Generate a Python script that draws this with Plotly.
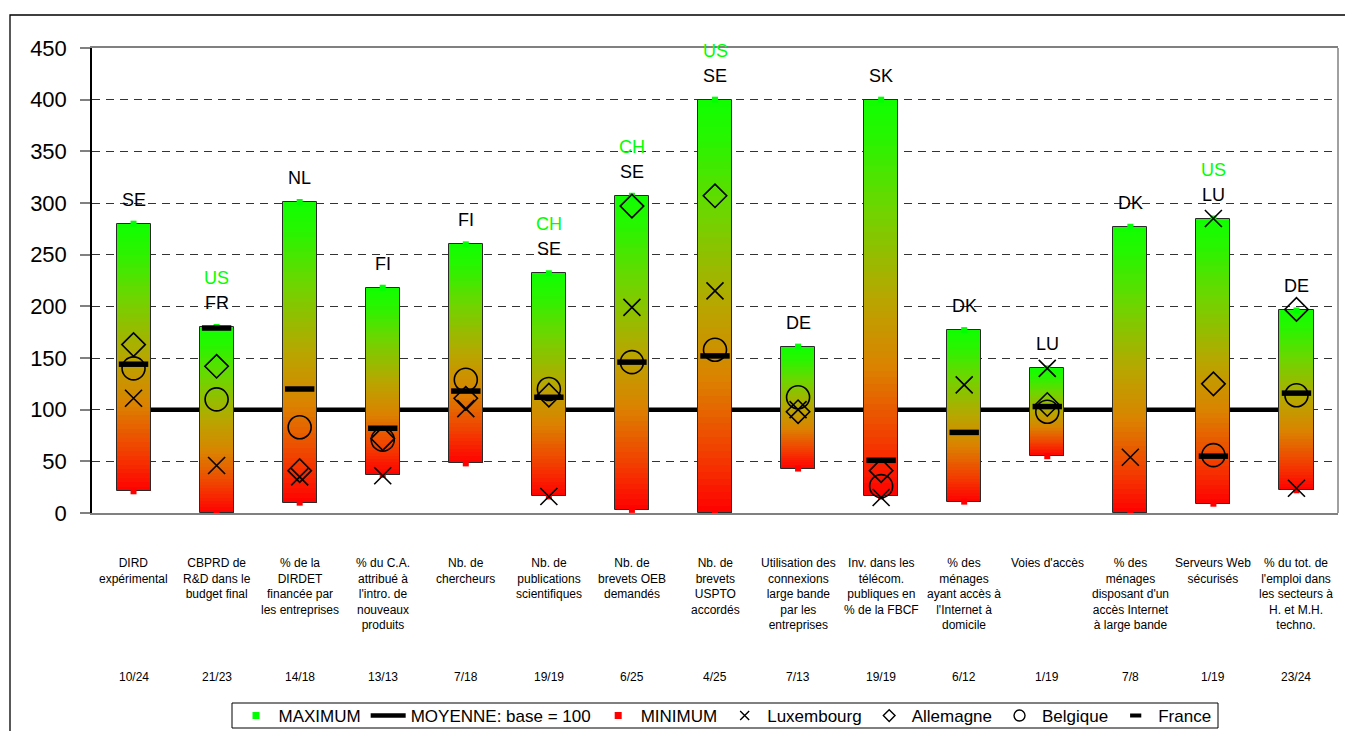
import plotly.graph_objects as go

# ---------------- data ----------------
categories = [
    "DIRD<br>expérimental",
    "CBPRD de<br>R&D dans le<br>budget final",
    "% de la<br>DIRDET<br>financée par<br>les entreprises",
    "% du C.A.<br>attribué à<br>l'intro. de<br>nouveaux<br>produits",
    "Nb. de<br>chercheurs",
    "Nb. de<br>publications<br>scientifiques",
    "Nb. de<br>brevets OEB<br>demandés",
    "Nb. de<br>brevets<br>USPTO<br>accordés",
    "Utilisation des<br>connexions<br>large bande<br>par les<br>entreprises",
    "Inv. dans les<br>télécom.<br>publiques en<br>% de la FBCF",
    "% des<br>ménages<br>ayant accès à<br>l'Internet à<br>domicile",
    "Voies d'accès",
    "% des<br>ménages<br>disposant d'un<br>accès Internet<br>à large bande",
    "Serveurs Web<br>sécurisés",
    "% du tot. de<br>l'emploi dans<br>les secteurs à<br>H. et M.H.<br>techno.",
]
ranks = ["10/24", "21/23", "14/18", "13/13", "7/18", "19/19", "6/25", "4/25",
         "7/13", "19/19", "6/12", "1/19", "7/8", "1/19", "23/24"]

max_vals = [280, 180, 301, 218, 260, 232, 307, 400, 161, 400, 177, 140, 277, 285, 196]
min_vals = [21, 0, 10, 37, 48, 16, 3, 0, 43, 16, 11, 55, 0, 9, 22]
mean_vals = [100, 100, 100, 100, 100, 100, 100, 100, 100, 100, 100, 100, 100, 100, 100]
lux_vals = [111, 46, 35, 36, 101, 16, 199, 215, 100, 15, 124, 140, 54, 285, 24]
de_vals = [163, 142, 41, 72, 111, 114, 297, 307, 98, 41, None, 105, None, 125, 197]
be_vals = [140, 110, 83, 71, 129, 120, 146, 158, 112, 26, None, 98, None, 56, 114]
fr_vals = [144, 179, 120, 82, 118, 112, 146, 152, None, 51, 78, 103, None, 55, 116]

max_labels = ["SE", "FR", "NL", "FI", "FI", "SE", "SE", "SE", "DE", "SK", "DK", "LU", "DK", "LU", "DE"]
extra_labels = ["", "US", "", "", "", "CH", "CH", "US", "", "", "", "", "", "US", ""]

# ---------------- style ----------------
FONT = "Arial, Liberation Sans, sans-serif"
GREEN = "#00ff00"
RED = "#ff0000"
stops = [(0.0, (255, 0, 0)), (0.15, (242, 64, 0)), (0.33, (218, 132, 0)),
         (0.5, (184, 166, 0)), (0.72, (112, 212, 0)), (0.9, (40, 245, 0)),
         (1.0, (16, 255, 0))]


def color_at(f):
    for (f0, c0), (f1, c1) in zip(stops[:-1], stops[1:]):
        if f <= f1:
            t = (f - f0) / (f1 - f0)
            c = [round(a + (b - a) * t) for a, b in zip(c0, c1)]
            return "rgb(%d,%d,%d)" % tuple(c)
    return "rgb(%d,%d,%d)" % stops[-1][1]


# page geometry (the page body adds an 8px offset to the figure)
OFF = 8
L, R, T, B = 92, 1338, 48, 513          # plot area in page pixels
W, H = R - L, B - T
FIG_W, FIG_H = 1353 - OFF, 731 - OFF


def px_x(p):
    return (p - L) / W


def px_y(p):
    return (B - p) / H


BAR_W = 0.41
N = 60
spans = [mx - mn for mx, mn in zip(max_vals, min_vals)]

fig = go.Figure()

# gradient bars (layered from bottom so no seams)
for k in range(N):
    f = k / N
    fig.add_trace(go.Bar(
        x=categories,
        base=[mn + s * f for mn, s in zip(min_vals, spans)],
        y=[s * (1 - f) for s in spans],
        width=BAR_W,
        marker=dict(color=color_at(f + 0.5 / N), line=dict(width=0)),
        showlegend=False, hoverinfo="skip",
    ))

# bar outline
fig.add_trace(go.Bar(
    x=categories, base=min_vals, y=spans, width=BAR_W,
    marker=dict(color="rgba(0,0,0,0)", line=dict(color="#2a2a2a", width=1)),
    showlegend=False, hoverinfo="skip",
))

series = [
    ("MAXIMUM", max_vals, dict(symbol="square", size=6, color=GREEN, line=dict(width=0)),
     dict(symbol="square", size=7, color=GREEN, line=dict(width=0))),
    ("MINIMUM", min_vals, dict(symbol="square", size=6, color=RED, line=dict(width=0)),
     dict(symbol="square", size=7, color=RED, line=dict(width=0))),
    ("Luxembourg", lux_vals,
     dict(symbol="x-thin-open", size=17, color="black", line=dict(width=1.6, color="black")),
     dict(symbol="x-thin-open", size=9, color="black", line=dict(width=1.4, color="black"))),
    ("Allemagne", de_vals,
     dict(symbol="diamond-open", size=18, color="black", line=dict(width=1.6, color="black")),
     dict(symbol="diamond-open", size=9, color="black", line=dict(width=1.4, color="black"))),
    ("Belgique", be_vals,
     dict(symbol="circle-open", size=23, color="black", line=dict(width=1.6, color="black")),
     dict(symbol="circle-open", size=11, color="black", line=dict(width=1.4, color="black"))),
    ("France", fr_vals,
     dict(symbol="line-ew-open", size=21, color="black", line=dict(width=5.5, color="black")),
     dict(symbol="line-ew-open", size=8, color="black", line=dict(width=4, color="black"))),
]
ranks_leg = {"MAXIMUM": 1, "MINIMUM": 3, "Luxembourg": 4, "Allemagne": 5, "Belgique": 6, "France": 7}

for name, vals, mk, _ in series:
    fig.add_trace(go.Scatter(x=categories, y=vals, mode="markers", name=name,
                             marker=mk, showlegend=False, hoverinfo="skip"))

# legend-only entries with small symbols
for name, _, _, lmk in series:
    fig.add_trace(go.Scatter(x=[None], y=[None], mode="markers", name=name,
                             marker=lmk, showlegend=True, legendrank=ranks_leg[name]))
fig.add_trace(go.Scatter(x=[None], y=[None], mode="lines", name="MOYENNE: base = 100",
                         line=dict(color="black", width=4.5), showlegend=True, legendrank=2))

shapes = [
    # mean line (between grid and traces)
    dict(type="line", xref="x", yref="y", x0=categories[0], x1=categories[-1],
         y0=mean_vals[0], y1=mean_vals[-1], line=dict(color="black", width=4.5),
         layer="between"),
    # right plot border
    dict(type="line", xref="paper", yref="paper", x0=1, x1=1, y0=0, y1=1,
         line=dict(color="#808080", width=1.5)),
    # outer frame
    dict(type="rect", xref="paper", yref="paper",
         x0=px_x(10), x1=px_x(1400), y0=px_y(780), y1=px_y(15),
         line=dict(color="black", width=1.3), fillcolor="rgba(0,0,0,0)"),
    # legend box
    dict(type="rect", xref="paper", yref="paper",
         x0=px_x(232), x1=px_x(1218), y0=px_y(728), y1=px_y(703),
         line=dict(color="black", width=1), fillcolor="white", layer="below"),
]

annotations = []
for cat, lab, ext, mx, rk in zip(categories, max_labels, extra_labels, max_vals, ranks):
    annotations.append(dict(x=cat, y=mx, xref="x", yref="y", text=lab, showarrow=False,
                            yanchor="middle", yshift=24, font=dict(size=18, color="black", family=FONT)))
    if ext:
        annotations.append(dict(x=cat, y=mx, xref="x", yref="y", text=ext, showarrow=False,
                                yanchor="middle", yshift=49, font=dict(size=18, color=GREEN, family=FONT)))
    annotations.append(dict(x=cat, y=0, xref="x", yref="paper", text=cat, showarrow=False,
                            yanchor="top", yshift=-41, align="center",
                            font=dict(size=12, color="black", family=FONT)))
    annotations.append(dict(x=cat, y=0, xref="x", yref="paper", text=rk, showarrow=False,
                            yanchor="middle", yshift=-164,
                            font=dict(size=12, color="black", family=FONT)))

fig.update_layout(
    width=FIG_W, height=FIG_H,
    margin=dict(l=L - OFF, r=FIG_W - (R - OFF), t=T - OFF, b=FIG_H - (B - OFF), autoexpand=False),
    paper_bgcolor="white", plot_bgcolor="white",
    barmode="overlay", bargap=0,
    font=dict(family=FONT, color="black"),
    shapes=shapes, annotations=annotations,
    showlegend=True,
    legend=dict(orientation="h", x=px_x(725), xanchor="center", y=px_y(716), yanchor="middle",
                borderwidth=0, bgcolor="rgba(0,0,0,0)", itemwidth=35,
                font=dict(size=17, family=FONT, color="black"),
                itemsizing="trace", traceorder="normal"),
    xaxis=dict(type="category", showticklabels=False, ticks="", showgrid=False, zeroline=False,
               showline=True, linecolor="#808080", linewidth=1.5, mirror=True,
               range=[-0.5, len(categories) - 0.5]),
    yaxis=dict(range=[0, 450], dtick=50, showgrid=True, gridcolor="#333333", gridwidth=1,
               griddash="8px,6px", zeroline=False, showline=True, linecolor="black", linewidth=1.5,
               ticks="outside", ticklen=10, tickcolor="#808080", tickwidth=1.5,
               ticklabelstandoff=9, tickfont=dict(size=22, family=FONT, color="black")),
)

fig.write_html("out.html")
